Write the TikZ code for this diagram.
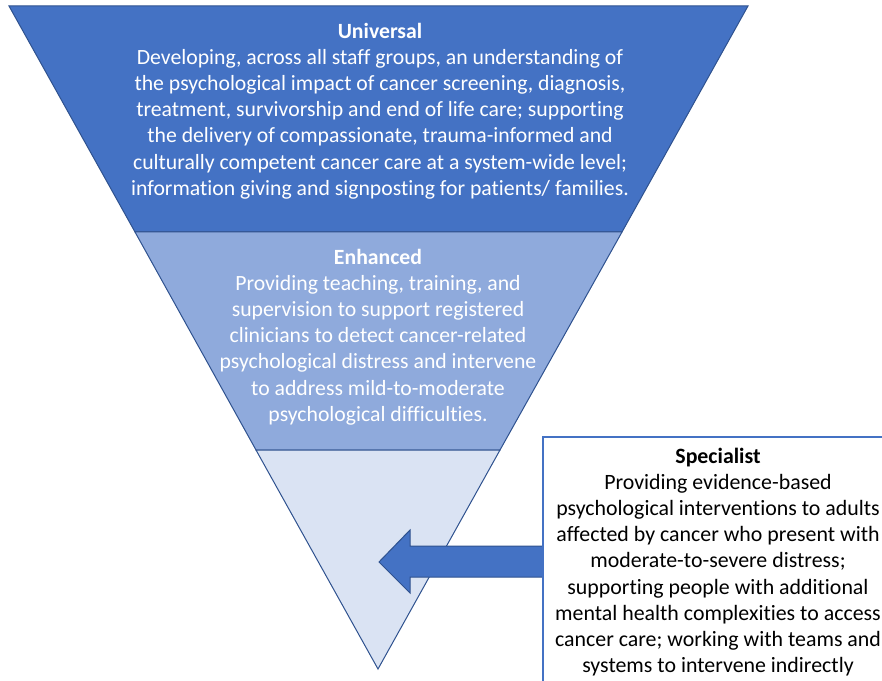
\documentclass[tikz,border=0pt]{standalone}
\usepackage{fontspec}
\setmainfont{Carlito}[Ligatures=NoCommon]
\usetikzlibrary{shapes}
\usetikzlibrary{arrows}
\definecolor{tierdark}{HTML}{4472C4}
\definecolor{tiermid}{HTML}{8FAADC}
\definecolor{tierlight}{HTML}{DAE3F3}
\definecolor{tierline}{HTML}{2F528F}
\tikzset{
	tier/.style={draw=tierline,line width=0.75pt},
	tier text/.style={align=center,text=white,font=\fontsize{16.3}{19.6}\selectfont},
	spec box/.style={draw=tierdark,line width=2pt,fill=white},
	spec text/.style={align=center,text=black,font=\fontsize{16.4}{19.6}\selectfont}
}

\begin{document}
\begin{tikzpicture}[x=0.75pt,y=-0.75pt]
      \useasboundingbox (0,0) rectangle (882,681);
      \clip (0,0) rectangle (882,681);
      \coordinate (tl) at (9,6);
      \coordinate (tr) at (748,6);
      \coordinate (ul) at (135,232);
      \coordinate (ur) at (622,232);
      \coordinate (ll) at (256,450);
      \coordinate (lr) at (500,450);
      \coordinate (apex) at (378,669);

      % inverted triangle, three tiers
      \draw[tier,fill=tierdark] (tl) -- (tr) -- (ur) -- (ul) -- cycle;
      \draw[tier,fill=tiermid] (ul) -- (ur) -- (lr) -- (ll) -- cycle;
      \draw[tier,fill=tierlight] (ll) -- (lr) -- (apex) -- cycle;

      \node[tier text] (universal) at (380,111) {\textbf{Universal}\\
        Developing, across all staff groups, an understanding of\\
        the psychological impact of cancer screening, diagnosis,\\
        treatment, survivorship and end of life care; supporting\\
        the delivery of compassionate, trauma-informed and\\
        culturally competent cancer care at a system-wide level;\\
        information giving and signposting for patients/ families.};

      \node[tier text] (enhanced) at (378,337) {\textbf{Enhanced}\\
        Providing teaching, training, and\\
        supervision to support registered\\
        clinicians to detect cancer-related\\
        psychological distress and intervene\\
        to address mild-to-moderate\\
        psychological difficulties.};

      % block arrow from the box into the bottom tier
      \draw[tier,fill=tierdark] (543,546) -- (410,546) -- (410,530) -- (379,562)
        -- (410,593) -- (410,577) -- (543,577);

      \draw[spec box] (543,437) rectangle (900,700);
      \node[spec text] (specialist) at (718,562) {\textbf{Specialist}\\
        Providing evidence-based\\
        psychological interventions to adults\\
        affected by cancer who present with\\
        moderate-to-severe distress;\\
        supporting people with additional\\
        mental health complexities to access\\
        cancer care; working with teams and\\
        systems to intervene indirectly};
    \end{tikzpicture}
\end{document}
